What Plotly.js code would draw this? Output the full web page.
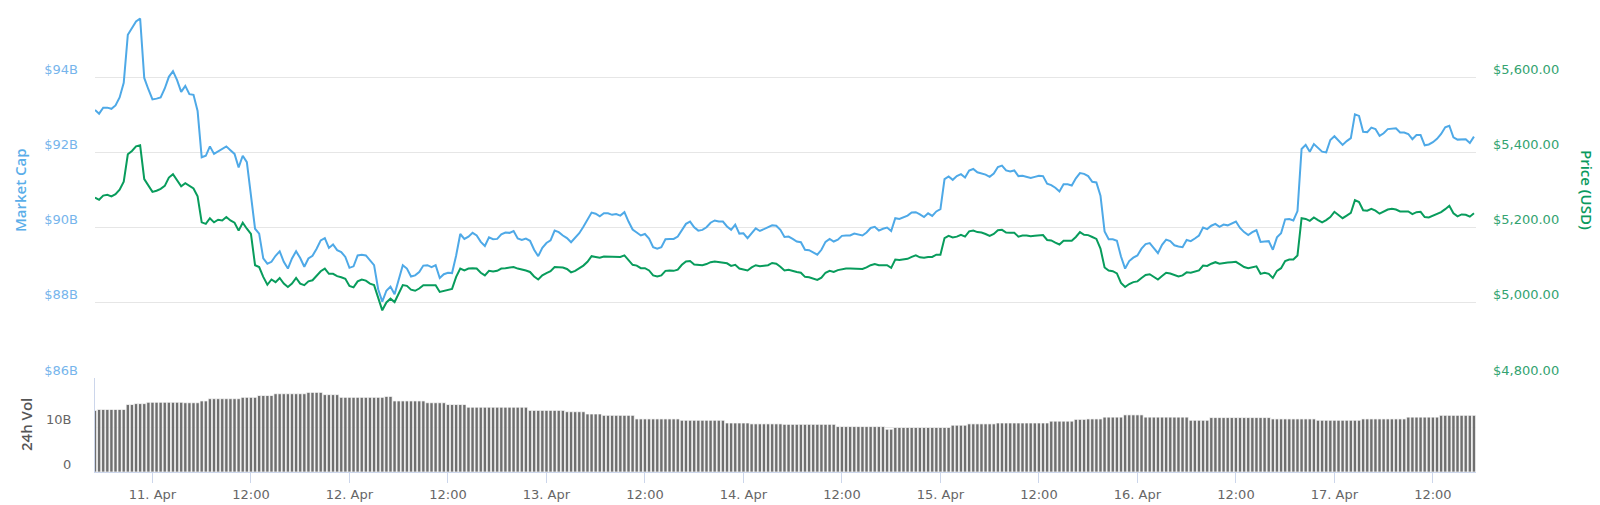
<!DOCTYPE html>
<html>
<head>
<meta charset="utf-8">
<script src="https://cdn.plot.ly/plotly-3.0.1.min.js"></script>
<style>
  html, body { margin: 0; padding: 0; background: #fff; }
  #chart { width: 1600px; height: 505px; }
</style>
</head>
<body>
<div id="chart"></div>
<script>
// half-hourly samples, starting 10 Apr 2019 17:00
const startTime = Date.UTC(2019, 3, 10, 17, 0);
const stepMinutes = 30;

// market cap, billions USD
const marketCap = [
  93.13, 93.03, 93.19, 93.19, 93.16, 93.25, 93.46, 93.85, 95.13, 95.31,
  95.48, 95.56, 93.98, 93.68, 93.41, 93.43, 93.46, 93.70, 94.01, 94.16,
  93.92, 93.61, 93.77, 93.55, 93.53, 93.10, 91.87, 91.91, 92.16, 91.96,
  92.02, 92.09, 92.16, 92.06, 91.96, 91.60, 91.91, 91.74, 90.85, 89.97,
  89.84, 89.18, 89.04, 89.09, 89.25, 89.37, 89.09, 88.91, 89.18, 89.37,
  89.19, 88.96, 89.18, 89.25, 89.44, 89.66, 89.72, 89.46, 89.55, 89.40,
  89.35, 89.22, 88.93, 88.97, 89.26, 89.28, 89.26, 89.12, 89.00, 88.36,
  88.03, 88.32, 88.43, 88.23, 88.59, 89.00, 88.91, 88.70, 88.73, 88.82,
  88.99, 89.00, 88.95, 89.00, 88.66, 88.76, 88.80, 88.79, 89.26, 89.83,
  89.70, 89.76, 89.86, 89.79, 89.62, 89.51, 89.74, 89.69, 89.70, 89.82,
  89.87, 89.86, 89.91, 89.71, 89.67, 89.71, 89.65, 89.41, 89.24, 89.46,
  89.59, 89.66, 89.92, 89.88, 89.79, 89.72, 89.61, 89.72, 89.85, 90.02,
  90.20, 90.40, 90.37, 90.30, 90.38, 90.38, 90.34, 90.36, 90.32, 90.41,
  90.16, 89.95, 89.87, 89.79, 89.83, 89.71, 89.48, 89.44, 89.48, 89.69,
  89.70, 89.70, 89.76, 89.94, 90.10, 90.16, 90.01, 89.92, 89.94, 90.01,
  90.13, 90.19, 90.16, 90.16, 90.03, 89.94, 90.08, 89.84, 89.85, 89.72,
  89.86, 89.98, 89.91, 89.96, 90.00, 90.06, 90.05, 89.94, 89.75, 89.76,
  89.70, 89.63, 89.61, 89.41, 89.40, 89.34, 89.28, 89.41, 89.62, 89.70,
  89.63, 89.68, 89.78, 89.79, 89.79, 89.84, 89.82, 89.79, 89.87, 89.99,
  90.02, 89.92, 89.97, 90.00, 89.91, 90.25, 90.23, 90.27, 90.32, 90.40,
  90.41, 90.35, 90.28, 90.38, 90.31, 90.43, 90.49, 91.29, 91.36, 91.27,
  91.37, 91.42, 91.33, 91.52, 91.56, 91.47, 91.45, 91.41, 91.35, 91.44,
  91.61, 91.65, 91.52, 91.49, 91.52, 91.37, 91.38, 91.36, 91.32, 91.35,
  91.38, 91.37, 91.17, 91.13, 91.06, 90.96, 91.15, 91.15, 91.12, 91.31,
  91.45, 91.43, 91.37, 91.22, 91.20, 90.85, 89.90, 89.69, 89.69, 89.65,
  89.23, 88.91, 89.11, 89.20, 89.26, 89.44, 89.56, 89.59, 89.45, 89.32,
  89.54, 89.68, 89.64, 89.53, 89.50, 89.48, 89.67, 89.64, 89.71, 89.79,
  90.00, 89.96, 90.05, 90.10, 90.02, 90.08, 90.06, 90.12, 90.16, 89.99,
  89.88, 89.80, 89.88, 89.93, 89.62, 89.63, 89.64, 89.41, 89.74, 89.85,
  90.22, 90.23, 90.19, 90.44, 92.09, 92.20, 92.02, 92.22, 92.11, 92.02,
  92.00, 92.33, 92.43, 92.31, 92.20, 92.30, 92.38, 93.01, 92.97, 92.55,
  92.54, 92.66, 92.62, 92.44, 92.51, 92.62, 92.62, 92.64, 92.53, 92.53,
  92.49, 92.35, 92.46, 92.46, 92.19, 92.21, 92.27, 92.36, 92.49, 92.67,
  92.71, 92.40, 92.34, 92.35, 92.35, 92.25, 92.42
];

// price, USD
const priceUsd = [
  5280, 5274, 5285, 5287, 5283, 5289, 5301, 5322, 5395, 5404,
  5416, 5419, 5329, 5311, 5295, 5298, 5303, 5311, 5333, 5342,
  5325, 5310, 5318, 5311, 5304, 5283, 5214, 5210, 5225, 5214,
  5221, 5219, 5228, 5219, 5213, 5192, 5213, 5197, 5183, 5100,
  5095, 5069, 5048, 5062, 5055, 5066, 5051, 5042, 5051, 5066,
  5051, 5047, 5057, 5060, 5073, 5084, 5091, 5077, 5077, 5071,
  5068, 5064, 5045, 5041, 5057, 5062, 5059, 5051, 5047, 5011,
  4980, 5001, 5011, 5002, 5025, 5047, 5045, 5035, 5032, 5038,
  5047, 5047, 5047, 5047, 5029, 5032, 5033, 5037, 5069, 5091,
  5086, 5091, 5092, 5091, 5080, 5073, 5085, 5083, 5085, 5091,
  5092, 5093, 5095, 5091, 5089, 5086, 5082, 5070, 5062, 5073,
  5079, 5084, 5095, 5095, 5094, 5090, 5081, 5085, 5092, 5099,
  5109, 5124, 5122, 5120, 5123, 5123, 5122, 5122, 5122, 5126,
  5113, 5101, 5099, 5092, 5092, 5086, 5073, 5070, 5073, 5085,
  5086, 5085, 5088, 5101, 5110, 5111, 5102, 5100, 5100, 5103,
  5108, 5110, 5108, 5108, 5105, 5098, 5101, 5091, 5088, 5086,
  5094, 5100, 5097, 5098, 5100, 5106, 5104, 5096, 5086, 5088,
  5084, 5082, 5080, 5069, 5068, 5064, 5061, 5067, 5080, 5085,
  5082, 5087, 5090, 5091, 5091, 5091, 5092, 5090, 5094, 5100,
  5103, 5100, 5100, 5100, 5093, 5115, 5114, 5115, 5117, 5122,
  5126, 5121, 5120, 5122, 5122, 5128, 5128, 5172, 5178, 5174,
  5176, 5181, 5176, 5190, 5192, 5188, 5187, 5183, 5178, 5183,
  5193, 5194, 5187, 5186, 5186, 5176, 5179, 5179, 5177, 5178,
  5179, 5180, 5167, 5166, 5160, 5155, 5165, 5165, 5165, 5175,
  5188, 5181, 5180, 5175, 5170, 5144, 5094, 5086, 5084, 5078,
  5053, 5042, 5050, 5055, 5057, 5066, 5074, 5076, 5070, 5062,
  5071, 5080, 5078, 5073, 5070, 5073, 5081, 5080, 5082, 5086,
  5099, 5098, 5104, 5108, 5104, 5106, 5107, 5108, 5109, 5102,
  5095, 5092, 5095, 5097, 5077, 5080, 5077, 5066, 5085, 5092,
  5111, 5115, 5115, 5126, 5225, 5223, 5218, 5227, 5220, 5214,
  5220, 5228, 5242, 5234, 5225, 5232, 5239, 5273, 5268, 5246,
  5245, 5250, 5245, 5237, 5242, 5248, 5250, 5248, 5243, 5243,
  5243, 5236, 5241, 5242, 5228, 5227, 5231, 5235, 5241, 5249,
  5258, 5238, 5230, 5235, 5234, 5229, 5238
];

// 24h volume, billions USD
const volume24h = [
  13.7, 13.9, 13.9, 13.9, 13.9, 13.9, 13.9, 13.9,
  15.0, 15.0,
  15.2, 15.2, 15.2,
  15.5, 15.5, 15.5, 15.5, 15.5, 15.5, 15.5, 15.5, 15.5,
  15.4, 15.4, 15.4, 15.4,
  15.8, 15.8,
  16.3, 16.3, 16.3, 16.3, 16.3, 16.3, 16.3, 16.3,
  16.6, 16.6, 16.6, 16.6,
  17.0, 17.0, 17.0, 17.0,
  17.4, 17.4, 17.4, 17.4, 17.4, 17.4, 17.4, 17.4,
  17.7, 17.7, 17.7, 17.7,
  17.2, 17.2, 17.2, 17.2,
  16.6, 16.6, 16.6, 16.6, 16.6, 16.6, 16.6, 16.6, 16.6, 16.6, 16.6,
  16.8, 16.8,
  15.8, 15.8, 15.8, 15.8, 15.8, 15.8, 15.8, 15.8,
  15.4, 15.4, 15.4, 15.4, 15.4,
  15.0, 15.0, 15.0, 15.0, 15.0,
  14.4, 14.4, 14.4, 14.4, 14.4, 14.4, 14.4, 14.4, 14.4, 14.4, 14.4, 14.4, 14.4, 14.4, 14.4,
  13.7, 13.7, 13.7, 13.7, 13.7, 13.7, 13.7, 13.7, 13.7,
  13.4, 13.4, 13.4, 13.4, 13.4,
  12.9, 12.9, 12.9, 12.9,
  12.6, 12.6, 12.6, 12.6, 12.6, 12.6, 12.6, 12.6,
  11.8, 11.8, 11.8, 11.8, 11.8, 11.8, 11.8, 11.8, 11.8, 11.8, 11.8,
  11.5, 11.5, 11.5, 11.5, 11.5, 11.5, 11.5, 11.5, 11.5, 11.5, 11.5,
  10.9, 10.9, 10.9, 10.9, 10.9, 10.9,
  10.7, 10.7, 10.7, 10.7, 10.7, 10.7, 10.7, 10.7,
  10.6, 10.6, 10.6, 10.6, 10.6, 10.6, 10.6, 10.6, 10.6, 10.6, 10.6, 10.6, 10.6,
  10.1, 10.1, 10.1, 10.1, 10.1, 10.1, 10.1, 10.1, 10.1, 10.1, 10.1, 10.1,
  9.5, 9.5,
  9.9, 9.9, 9.9, 9.9, 9.9, 9.9, 9.9, 9.9, 9.9, 9.9, 9.9, 9.9, 9.9, 9.9,
  10.4, 10.4, 10.4, 10.4,
  10.7, 10.7, 10.7, 10.7, 10.7, 10.7, 10.7,
  10.9, 10.9, 10.9, 10.9, 10.9, 10.9, 10.9, 10.9, 10.9, 10.9, 10.9, 10.9, 10.9,
  11.3, 11.3, 11.3, 11.3, 11.3, 11.3,
  11.7, 11.7, 11.7,
  11.8, 11.8, 11.8, 11.8,
  12.2, 12.2, 12.2, 12.2, 12.2,
  12.7, 12.7, 12.7, 12.7, 12.7,
  12.2, 12.2, 12.2, 12.2, 12.2, 12.2, 12.2, 12.2, 12.2, 12.2, 12.2,
  11.5, 11.5, 11.5, 11.5, 11.5,
  12.1, 12.1, 12.1, 12.1, 12.1, 12.1, 12.1, 12.1, 12.1, 12.1, 12.1, 12.1, 12.1, 12.1, 12.1,
  11.8, 11.8, 11.8, 11.8, 11.8, 11.8, 11.8, 11.8, 11.8, 11.8, 11.8,
  11.5, 11.5, 11.5, 11.5, 11.5, 11.5, 11.5, 11.5, 11.5, 11.5, 11.5,
  11.8, 11.8, 11.8, 11.8, 11.8, 11.8, 11.8, 11.8, 11.8, 11.8, 11.8,
  12.2, 12.2, 12.2, 12.2, 12.2, 12.2, 12.2, 12.2,
  12.6, 12.6, 12.6, 12.6, 12.6, 12.6, 12.6, 12.6, 12.6
];

const xTickVals = [
  '2019-04-11 00:00', '2019-04-11 12:00', '2019-04-12 00:00', '2019-04-12 12:00',
  '2019-04-13 00:00', '2019-04-13 12:00', '2019-04-14 00:00', '2019-04-14 12:00',
  '2019-04-15 00:00', '2019-04-15 12:00', '2019-04-16 00:00', '2019-04-16 12:00',
  '2019-04-17 00:00', '2019-04-17 12:00'
];
const xTickText = [
  '11. Apr', '12:00', '12. Apr', '12:00', '13. Apr', '12:00', '14. Apr', '12:00',
  '15. Apr', '12:00', '16. Apr', '12:00', '17. Apr', '12:00'
];
const capTicks = [86, 88, 90, 92, 94, 96];
const capTickText = ['$86B', '$88B', '$90B', '$92B', '$94B', ''];
const priceTicks = [4800, 5000, 5200, 5400, 5600];
const volTicks = [0, 10];
const volTickText = ['0', '10B'];

function stamp(k) {
  const d = new Date(startTime + k * stepMinutes * 60000);
  return d.toISOString().slice(0, 16).replace('T', ' ');
}
const times = marketCap.map((v, k) => stamp(k));

const blue = '#4ea9e7';
const green = '#089c5c';

const traces = [
  {
    x: times, y: marketCap, type: 'scatter', mode: 'lines',
    line: {color: blue, width: 2}, xaxis: 'x', yaxis: 'y', hoverinfo: 'skip'
  },
  {
    x: times, y: priceUsd, type: 'scatter', mode: 'lines',
    line: {color: green, width: 2}, xaxis: 'x', yaxis: 'y2', hoverinfo: 'skip'
  },
  {
    x: times, y: volume24h, type: 'bar',
    marker: {color: '#6f6f6f', line: {color: '#ffffff', width: 0.7}},
    xaxis: 'x', yaxis: 'y3', hoverinfo: 'skip'
  }
];

const titleFont = {family: 'Open Sans, DejaVu Sans, sans-serif', size: 15, weight: 600};

const layout = {
  width: 1600, height: 505,
  margin: {l: 95, r: 124, t: 2, b: 33},
  paper_bgcolor: '#ffffff', plot_bgcolor: '#ffffff',
  showlegend: false,
  bargap: 0.2,
  font: {family: 'DejaVu Sans, sans-serif', size: 13, color: '#666666'},
  xaxis: {
    type: 'date', anchor: 'y3',
    range: ['2019-04-10 17:00', '2019-04-17 17:15'],
    tickvals: xTickVals, ticktext: xTickText,
    ticks: 'outside', ticklen: 10, tickcolor: '#ccd6eb', tickwidth: 1,
    showline: true, linecolor: '#ccd6eb', linewidth: 1,
    showgrid: false, zeroline: false,
    tickfont: {size: 13, color: '#666666'}
  },
  yaxis: {
    domain: [0.2, 1], range: [86, 96],
    tickvals: capTicks, ticktext: capTickText,
    gridcolor: '#e6e6e6', gridwidth: 1, zeroline: false,
    ticks: '', ticklabelstandoff: 16, ticklabelshift: -8,
    tickfont: {size: 13, color: '#76b5ec'}
  },
  yaxis2: {
    overlaying: 'y', side: 'right', range: [4800, 5800],
    tickvals: priceTicks, tickformat: '$,.2f',
    showgrid: false, zeroline: false,
    ticks: '', ticklabelstandoff: 16, ticklabelshift: -8,
    tickfont: {size: 13, color: '#33a370'}
  },
  yaxis3: {
    domain: [0, 0.2], range: [0, 20.9],
    tickvals: volTicks, ticktext: volTickText,
    gridcolor: '#e6e6e6', gridwidth: 1, zeroline: false,
    showline: true, linecolor: '#ccd6eb',
    ticks: '', ticklabelstandoff: 20, ticklabelshift: -8,
    tickfont: {size: 13, color: '#666666'}
  },
  annotations: [
    {
      text: 'Market Cap', xref: 'paper', yref: 'paper',
      x: -0.0543, y: 0.6, xanchor: 'center', yanchor: 'middle',
      textangle: -90, showarrow: false,
      font: Object.assign({color: '#5aaee9'}, titleFont)
    },
    {
      text: '24h Vol', xref: 'paper', yref: 'paper',
      x: -0.05, y: 0.102, xanchor: 'center', yanchor: 'middle',
      textangle: -90, showarrow: false,
      font: Object.assign({color: '#555555'}, titleFont)
    },
    {
      text: 'Price (USD)', xref: 'paper', yref: 'paper',
      x: 1.0804, y: 0.6, xanchor: 'center', yanchor: 'middle',
      textangle: 90, showarrow: false,
      font: Object.assign({color: '#0a9a5e'}, titleFont)
    }
  ]
};

Plotly.newPlot('chart', traces, layout, {staticPlot: true, displayModeBar: false});
</script>
</body>
</html>
